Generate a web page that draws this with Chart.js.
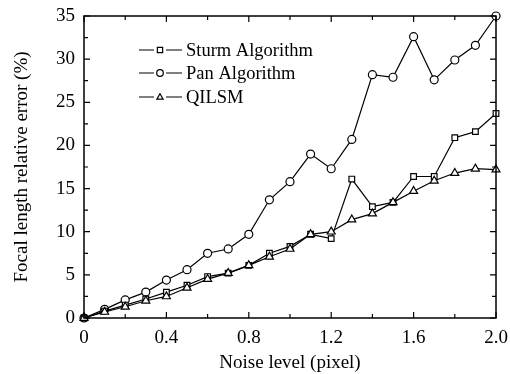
<!DOCTYPE html>
<html>
<head>
<meta charset="utf-8">
<script src="https://cdn.jsdelivr.net/npm/chart.js@4/dist/chart.umd.min.js"></script>
<style>
  html, body { margin: 0; padding: 0; background: #fff; }
  #wrap { width: 510px; height: 374px; }
</style>
</head>
<body>
<div id="wrap"><canvas id="chart"></canvas></div>
<script>
const noise = [0, 0.1, 0.2, 0.3, 0.4, 0.5, 0.6, 0.7, 0.8, 0.9, 1.0, 1.1, 1.2, 1.3, 1.4, 1.5, 1.6, 1.7, 1.8, 1.9, 2.0];
const sturm = [0, 0.8, 1.5, 2.2, 3.0, 3.8, 4.8, 5.2, 6.1, 7.5, 8.3, 9.7, 9.2, 16.1, 12.9, 13.4, 16.4, 16.4, 20.9, 21.6, 23.7];
const pan   = [0, 1.0, 2.1, 3.0, 4.4, 5.6, 7.5, 8.0, 9.7, 13.7, 15.8, 19.0, 17.3, 20.7, 28.2, 27.9, 32.6, 27.6, 29.9, 31.6, 35.0];
const qilsm = [0, 0.7, 1.3, 2.0, 2.5, 3.5, 4.5, 5.2, 6.1, 7.1, 8.0, 9.7, 10.0, 11.4, 12.1, 13.4, 14.7, 15.9, 16.8, 17.3, 17.2];
const seriesNames = ["Sturm Algorithm", "Pan Algorithm", "QILSM"];
const markers = ["rect", "circle", "triangle"];

const FONT = "'Liberation Serif', 'Times New Roman', serif";

function pts(arr) {
  return arr.map((v, i) => ({ x: noise[i], y: v }));
}

function drawMarker(ctx, style, x, y, r) {
  ctx.beginPath();
  if (style === "circle") {
    ctx.arc(x, y, r, 0, Math.PI * 2);
  } else if (style === "rect") {
    ctx.rect(x - r * 0.8, y - r * 0.8, r * 1.6, r * 1.6);
  } else {
    ctx.moveTo(x, y - r);
    ctx.lineTo(x + r * 0.95, y + r * 0.65);
    ctx.lineTo(x - r * 0.95, y + r * 0.65);
    ctx.closePath();
  }
  ctx.fillStyle = "#fff";
  ctx.fill();
  ctx.stroke();
}

// box frame with inward ticks on all four sides
const framePlugin = {
  id: "frame",
  afterDraw(chart) {
    const { ctx, chartArea: a } = chart;
    const xs = chart.scales.x, ys = chart.scales.y;
    ctx.save();
    ctx.strokeStyle = "#000";
    ctx.lineWidth = 1.5;
    ctx.strokeRect(a.left, a.top, a.right - a.left, a.bottom - a.top);
    ctx.lineWidth = 1.2;
    ctx.beginPath();
    xs.ticks.forEach((t) => {
      const px = xs.getPixelForValue(t.value);
      const len = Math.round(t.value * 10) % 4 === 0 ? 6 : 4;
      ctx.moveTo(px, a.bottom); ctx.lineTo(px, a.bottom - len);
      ctx.moveTo(px, a.top); ctx.lineTo(px, a.top + len);
    });
    ys.ticks.forEach((t) => {
      const py = ys.getPixelForValue(t.value);
      const len = t.value % 5 === 0 ? 6 : 4;
      ctx.moveTo(a.left, py); ctx.lineTo(a.left + len, py);
      ctx.moveTo(a.right, py); ctx.lineTo(a.right - len, py);
    });
    ctx.stroke();

    // legend
    ctx.font = "18.5px " + FONT;
    ctx.textBaseline = "middle";
    ctx.fillStyle = "#000";
    const rows = [50, 73, 97];
    seriesNames.forEach((name, i) => {
      const y = rows[i];
      ctx.lineWidth = 1.2;
      ctx.beginPath();
      ctx.moveTo(139, y); ctx.lineTo(154, y);
      ctx.moveTo(166, y); ctx.lineTo(182, y);
      ctx.stroke();
      drawMarker(ctx, markers[i], 160, y, 3.3);
      ctx.fillStyle = "#000";
      ctx.fillText(name, 186, y + 1);
    });
    ctx.restore();
  }
};

const ds = (label, arr, style) => ({
  label,
  data: pts(arr),
  borderColor: "#000",
  borderWidth: 1.2,
  pointStyle: style,
  pointRadius: style === "triangle" ? 4.6 : 4,
  pointBackgroundColor: "#fff",
  pointBorderColor: "#000",
  pointBorderWidth: 1.2,
  tension: 0,
  clip: false,
});

new Chart(document.getElementById("chart"), {
  type: "line",
  data: {
    datasets: [
      ds(seriesNames[2], qilsm, markers[2]),
      ds(seriesNames[0], sturm, markers[0]),
      ds(seriesNames[1], pan, markers[1]),
    ],
  },
  options: {
    animation: false,
    responsive: true,
    maintainAspectRatio: false,
    layout: { padding: { top: 16, right: 14, left: 0, bottom: 0 } },
    plugins: {
      legend: { display: false },
      tooltip: { enabled: false },
    },
    scales: {
      x: {
        type: "linear",
        min: 0,
        max: 2,
        afterFit: (s) => { s.height = 56; s.paddingLeft = 0; s.paddingRight = 0; },
        grid: { display: false, drawTicks: false },
        border: { display: false },
        ticks: {
          stepSize: 0.2,
          autoSkip: false,
          maxRotation: 0,
          padding: 9,
          color: "#000",
          font: { family: FONT, size: 19 },
          callback: (v) => {
            if (Math.round(v * 10) % 4 !== 0) return "";
            return v === 0 ? "0" : v.toFixed(1);
          },
        },
        title: {
          display: true,
          text: "Noise level (pixel)",
          color: "#000",
          font: { family: FONT, size: 19 },
          padding: { top: 0, bottom: 0 },
        },
      },
      y: {
        min: 0,
        max: 35,
        afterFit: (s) => { s.width = 84; s.paddingTop = 0; s.paddingBottom = 0; },
        grid: { display: false, drawTicks: false },
        border: { display: false },
        ticks: {
          stepSize: 2.5,
          autoSkip: false,
          padding: 9,
          color: "#000",
          font: { family: FONT, size: 19 },
          callback: (v) => (v % 5 === 0 ? String(v) : ""),
        },
        title: {
          display: true,
          text: "Focal length relative error (%)",
          color: "#000",
          font: { family: FONT, size: 19 },
          padding: { top: 11, bottom: 0 },
        },
      },
    },
  },
  plugins: [framePlugin],
});
</script>
</body>
</html>
